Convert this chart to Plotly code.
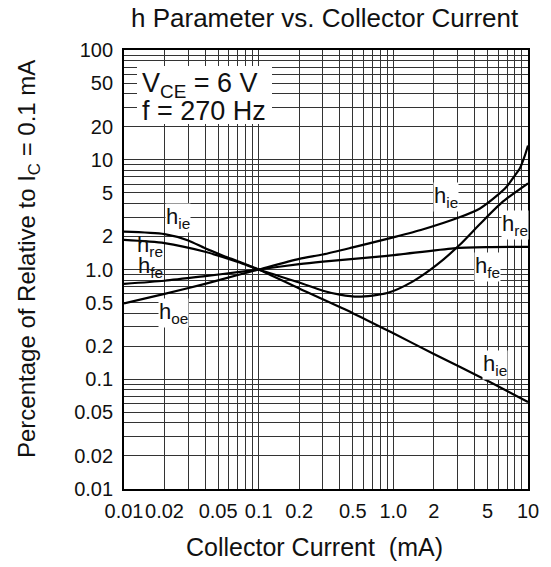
import plotly.graph_objects as go

# Collector current (mA) and relative h-parameter values (1.0 at Ic = 0.1 mA)
ic_hie = [0.01, 0.02, 0.03, 0.04, 0.055, 0.07, 0.1, 0.2, 0.5, 1, 2, 5, 10]
val_hie = [2.21, 2.1, 1.84, 1.56, 1.33, 1.19, 1.0, 0.67, 0.40, 0.262, 0.17, 0.097, 0.062]

ic_hre = [0.01, 0.02, 0.04, 0.07, 0.1, 0.2, 0.3, 0.4, 0.55, 0.9, 1.4, 2.1, 3.1, 4.4, 6.5, 10]
val_hre = [1.86, 1.74, 1.45, 1.17, 1.0, 0.76, 0.64, 0.59, 0.565, 0.61, 0.78, 1.10, 1.67, 2.6, 4.15, 6.1]

ic_hfe = [0.01, 0.02, 0.04, 0.07, 0.1, 0.2, 0.3, 0.9, 2.8, 5, 10]
val_hfe = [0.74, 0.79, 0.87, 0.945, 1.0, 1.12, 1.18, 1.33, 1.56, 1.6, 1.61]

ic_hoe = [0.01, 0.02, 0.04, 0.07, 0.1, 0.2, 0.3, 0.5, 0.9, 1.6, 3.1, 4.4, 5.85, 6.93, 8.0, 8.71, 9.4, 10]
val_hoe = [0.49, 0.60, 0.74, 0.89, 1.0, 1.25, 1.37, 1.59, 1.90, 2.29, 2.99, 3.6, 4.68, 5.67, 7.2, 8.36, 10.6, 13.5]

x_ticks = [0.01, 0.02, 0.05, 0.1, 0.2, 0.5, 1, 2, 5, 10]
x_tick_text = ["0.01", "0.02", "0.05", "0.1", "0.2", "0.5", "1.0", "2", "5", "10"]
y_ticks = [0.01, 0.02, 0.05, 0.1, 0.2, 0.5, 1, 2, 5, 10, 20, 50, 100]
y_tick_text = ["0.01", "0.02", "0.05", "0.1", "0.2", "0.5", "1.0", "2", "5", "10", "20", "50", "100"]

# full 1..9 per decade grid
x_grid = [m * 10 ** e for e in (-2, -1, 0) for m in range(1, 10)] + [10]
y_grid = [m * 10 ** e for e in (-2, -1, 0, 1) for m in range(1, 10)] + [100]

FONT = "Liberation Sans, Arial, sans-serif"
GRID = "#333333"

fig = go.Figure()
for xs, ys in [(ic_hie, val_hie), (ic_hre, val_hre), (ic_hfe, val_hfe), (ic_hoe, val_hoe)]:
    fig.add_trace(go.Scatter(
        x=xs, y=ys, mode="lines",
        line=dict(color="black", width=2.2, shape="spline", smoothing=0.7),
        showlegend=False, hoverinfo="skip",
    ))

axis_common = dict(
    type="log", showline=True, linecolor="black", linewidth=1.8, mirror=True,
    showgrid=True, gridcolor=GRID, gridwidth=1.3, ticks="", zeroline=False,
    tickfont=dict(family=FONT, size=20, color="#111"),
)
fig.update_xaxes(
    **axis_common, range=[-2, 1], tickvals=x_ticks, ticktext=x_tick_text,
    tickangle=0, ticklabelstandoff=3,
    minor=dict(tickvals=x_grid, showgrid=True, gridcolor=GRID, gridwidth=1.3, ticks=""),
)
fig.update_yaxes(
    **axis_common, range=[-2, 2], tickvals=y_ticks, ticktext=y_tick_text,
    ticklabelstandoff=5,
    minor=dict(tickvals=y_grid, showgrid=True, gridcolor=GRID, gridwidth=1.3, ticks=""),
)

L, R, T, B = 124, 23, 50, 78
W, H = 551, 567
PW, PH = W - L - R, H - T - B


def px(x):
    return (x - L) / PW


def py(y):
    return (H - B - y) / PH


def note(text, x, y, size, bg=None, xanchor="center", pad=0, **kw):
    fig.add_annotation(
        text=text, xref="paper", yref="paper", x=px(x), y=py(y),
        xanchor=xanchor, yanchor="middle",
        showarrow=False, font=dict(family=FONT, size=size, color="#111"),
        bgcolor=bg if bg else "rgba(0,0,0,0)", borderpad=pad, **kw,
    )


note("h Parameter vs. Collector Current", 325, 18, 26)
note("Collector Current  (mA)", 314, 547, 25)
note("Percentage of Relative to I<sub>C</sub> = 0.1 mA", 28, 259, 24, textangle=-90)

# operating conditions box: white panel over the grid, then the two lines
fig.add_shape(type="rect", xref="paper", yref="paper",
              x0=px(137), x1=px(272), y0=py(124), y1=py(66),
              fillcolor="white", line=dict(width=0), layer="above")
note("V<sub>CE</sub> = 6 V", 141, 85, 27, xanchor="left")
note("f = 270 Hz", 141, 111, 27, xanchor="left")

LAB = 22
note("h<sub>ie</sub>", 178, 218, LAB, bg="white")
note("h<sub>re</sub>", 150, 246, LAB)
note("h<sub>fe</sub>", 150, 267, LAB)
note("h<sub>oe</sub>", 173, 313, LAB, bg="white")
note("h<sub>ie</sub>", 446, 197, LAB, bg="white")
note("h<sub>re</sub>", 515, 225, LAB, bg="white")
note("h<sub>fe</sub>", 487, 267, LAB, bg="white")
note("h<sub>ie</sub>", 495, 365, LAB, bg="white")

fig.update_layout(
    width=W, height=H, margin=dict(l=L, r=R, t=T, b=B),
    paper_bgcolor="white", plot_bgcolor="white",
)

fig.write_html("out.html")
